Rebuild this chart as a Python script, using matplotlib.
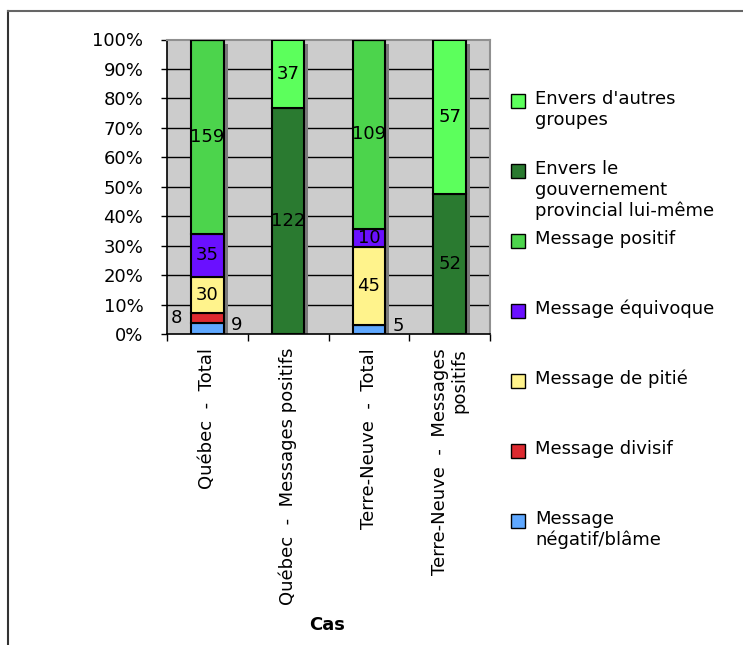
import matplotlib
matplotlib.use("Agg")
import matplotlib.pyplot as plt
import numpy as np
from matplotlib.patches import Rectangle
from matplotlib.lines import Line2D
from matplotlib.transforms import ScaledTranslation

plt.rcParams['font.family'] = ['DejaVu Sans']

categories = ["Québec  -  Total", "Québec  -  Messages positifs",
              "Terre-Neuve  -  Total", "Terre-Neuve  -  Messages\npositifs"]

# counts per category, bottom to top of each stack
negatif = [9, 0, 5, 0]
divisif = [8, 0, 0, 0]
pitie = [30, 0, 45, 0]
equivoque = [35, 0, 10, 0]
positif = [159, 0, 109, 0]
gouvernement = [0, 122, 0, 52]
autres = [0, 37, 0, 57]

series_names = ["Message\nnégatif/blâme", "Message divisif", "Message de pitié",
                "Message équivoque", "Message positif",
                "Envers le\ngouvernement\nprovincial lui-même",
                "Envers d'autres\ngroupes"]
series_values = [negatif, divisif, pitie, equivoque, positif, gouvernement, autres]
colors = ["#5FA8FF", "#DD2A30", "#FFF38C", "#6A10FF", "#4CD44C", "#2A7A30", "#5CFF5C"]

y_ticks = [0, 10, 20, 30, 40, 50, 60, 70, 80, 90, 100]

FS = 13
W, H = 743, 645
fig = plt.figure(figsize=(W / 100, H / 100), dpi=100)
ax = fig.add_axes([167 / W, 1 - 334 / H, (490 - 167) / W, (334 - 39.5) / H])

vals = np.array(series_values, dtype=float)
totals = vals.sum(axis=0)
frac = vals / totals
x = np.arange(len(categories))
bw = 0.4

ax.set_facecolor("#CCCCCC")
ax.set_xlim(-0.5, len(categories) - 0.5)
ax.set_ylim(0, 1)

# gridlines
for t in y_ticks[1:-1]:
    ax.axhline(t / 100, color="black", lw=1, zorder=1)

# bar shadows
shadow_tr = ax.transData + ScaledTranslation(4 / 100, -4 / 100, fig.dpi_scale_trans)
ax.bar(x, frac.sum(axis=0), width=bw, color="#7A7A7A", edgecolor="none",
       transform=shadow_tr, zorder=2)

bottom = np.zeros(len(categories))
for i, (name, row) in enumerate(zip(series_names, frac)):
    ax.bar(x, row, width=bw, bottom=bottom, color=colors[i], edgecolor="black",
           linewidth=1.5, zorder=3)
    for j in range(len(categories)):
        v = vals[i, j]
        if v <= 0:
            continue
        cy = bottom[j] + row[j] / 2
        cx = x[j]
        if i == 0:
            cx, cy = x[j] + 0.36, cy + 0.012
        elif i == 1:
            cx = x[j] - 0.38
        ax.text(cx, cy, f"{int(v)}", ha="center", va="center", fontsize=FS,
                color="black", zorder=5)
    bottom += row

# axes styling
ax.set_yticks([t / 100 for t in y_ticks])
ax.set_yticklabels([f"{t}%" for t in y_ticks], fontsize=FS)
ax.tick_params(axis="y", length=4, width=1, pad=13, direction="out")
ax.set_xticks(np.arange(-0.5, len(categories), 1.0))
ax.set_xticklabels([])
ax.set_xticks(x, minor=True)
ax.set_xticklabels(categories, minor=True, rotation=90, fontsize=FS,
                   va="top", ha="center", multialignment="right", linespacing=1.1)
ax.tick_params(axis="x", which="major", length=5, width=1, direction="out")
ax.tick_params(axis="x", which="minor", length=0, pad=10)
for s in ["top", "right"]:
    ax.spines[s].set_color("#909090")
    ax.spines[s].set_linewidth(1.5)
for s in ["left", "bottom"]:
    ax.spines[s].set_color("black")
    ax.spines[s].set_linewidth(1.2)

fig.text(327 / W, 1 - 625 / H, "Cas", ha="center", va="center",
         fontsize=FS, fontweight="bold")

# legend, top entry first
legend_rows = [101, 171, 241, 311, 381, 451, 521]
for k, idx in enumerate(range(len(series_names) - 1, -1, -1)):
    yc = legend_rows[k]
    fig.patches.append(Rectangle((511 / W, 1 - (yc + 7) / H), 14 / W, 14 / H,
                                 transform=fig.transFigure, facecolor=colors[idx],
                                 edgecolor="black", linewidth=1))
    fig.text(535 / W, 1 - (yc - 11) / H, series_names[idx], ha="left", va="top",
             fontsize=FS, linespacing=1.2)

# outer frame
fig.add_artist(Line2D([8 / W, 8 / W], [0, 1 - 11 / H], transform=fig.transFigure,
                      color="#333333", lw=1.5))
fig.add_artist(Line2D([8 / W, 1], [1 - 11 / H, 1 - 11 / H], transform=fig.transFigure,
                      color="#666666", lw=1.5))

fig.savefig("out.png", dpi=100)
